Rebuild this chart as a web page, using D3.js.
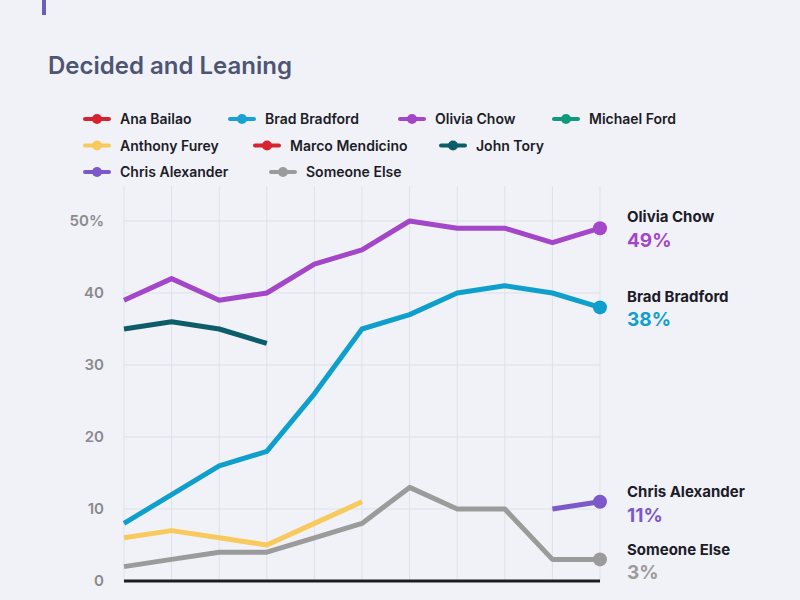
<!DOCTYPE html>
<html><head><meta charset="utf-8">
<script src="https://cdn.jsdelivr.net/npm/d3@7"></script>
<style>body{margin:0;background:#f1f2f7;font-family:Inter,"Noto Sans",sans-serif;}</style>
</head><body><div id="canvas"></div>
<script>
// poll index 0..10
var polls = d3.range(11);
var chow = [39,42,39,40,44,46,50,49,49,47,49];
var bradford = [8,12,16,18,26,35,37,40,41,40,38];
var tory = [35,36,35,33,null,null,null,null,null,null,null];
var furey = [6,7,6,5,8,11,null,null,null,null,null];
var someone = [2,3,4,4,6,8,13,10,10,3,3];
var alexander = [null,null,null,null,null,null,null,null,null,10,11];
var yTicks = [0,10,20,30,40,50];

var legendNames = ["Ana Bailao","Brad Bradford","Olivia Chow","Michael Ford","Anthony Furey","Marco Mendicino","John Tory","Chris Alexander","Someone Else"];
var legendColors = ["#d7232f","#17a2d3","#a346c9","#0f9a7c","#f8c95c","#d7232f","#0c5d69","#7d58c9","#9b9b9b"];

var series = [
  {name:"John Tory", vals:tory, color:"#0c5d69"},
  {name:"Anthony Furey", vals:furey, color:"#f8c95c"},
  {name:"Someone Else", vals:someone, color:"#9b9b9b", end:true},
  {name:"Chris Alexander", vals:alexander, color:"#7d58c9", end:true},
  {name:"Brad Bradford", vals:bradford, color:"#0f9fcc", end:true},
  {name:"Olivia Chow", vals:chow, color:"#a346c9", end:true}
];

var svg = d3.select("#canvas").append("svg").attr("width",800).attr("height",600);

svg.append("rect").attr("x",42).attr("y",0).attr("width",4).attr("height",15).attr("fill","#6a5fc1");

svg.append("text").attr("x",48).attr("y",74).attr("fill","#4d5573")
  .attr("font-size",24).attr("font-weight",600).text("Decided and Leaning");

// legend
var legendRows = [[0,1,2,3],[4,5,6],[7,8]];
var legX = [[83,228,398,552],[83,253,439],[83,269]];
legendRows.forEach(function(row, ri){
  row.forEach(function(idx, ci){
    var g = svg.append("g").attr("transform","translate("+legX[ri][ci]+","+(119+ri*26.5)+")");
    g.append("line").attr("x1",2).attr("x2",26).attr("stroke",legendColors[idx]).attr("stroke-width",4).attr("stroke-linecap","round");
    g.append("circle").attr("cx",14).attr("r",5).attr("fill",legendColors[idx]);
    g.append("text").attr("x",37).attr("y",5).attr("font-size",14).attr("font-weight",600)
      .attr("fill","#1c1c28").attr("textLength",null).text(legendNames[idx]);
  });
});

var x = d3.scaleLinear().domain([0,10]).range([124,600]);
var y = d3.scaleLinear().domain([0,50]).range([581,221]);

// grid
svg.selectAll(".vg").data(polls).enter().append("line")
  .attr("x1",d=>x(d)).attr("x2",d=>x(d)).attr("y1",186).attr("y2",581)
  .attr("stroke","#dde1ec").attr("stroke-width",1);
svg.selectAll(".hg").data(yTicks).enter().append("line")
  .attr("x1",124).attr("x2",600).attr("y1",d=>y(d)).attr("y2",d=>y(d))
  .attr("stroke","#dde1ec").attr("stroke-width",1);

var yAxis = d3.axisLeft(y).tickValues(yTicks).tickSize(0).tickPadding(14)
  .tickFormat(d=>d===50?"50%":d);
var ya = svg.append("g").attr("transform","translate(118,0)").call(yAxis);
ya.select(".domain").remove();
ya.selectAll("text").attr("font-size",15).attr("font-weight",600).attr("fill","#8a8a8f").attr("font-family","Inter,sans-serif");

svg.append("line").attr("x1",124).attr("x2",600).attr("y1",581).attr("y2",581).attr("stroke","#1c1c22").attr("stroke-width",3);

var line = d3.line().defined(d=>d!=null).x((d,i)=>x(i)).y(d=>y(d));
series.forEach(function(s){
  svg.append("path").datum(s.vals).attr("d",line).attr("fill","none")
    .attr("stroke",s.color).attr("stroke-width",5).attr("stroke-linejoin","round");
});

var labels = {"Olivia Chow":[216,240],"Brad Bradford":[296,319],"Chris Alexander":[491,515],"Someone Else":[549,572]};
series.filter(s=>s.end).forEach(function(s){
  var v = s.vals[10];
  svg.append("circle").attr("cx",x(10)).attr("cy",y(v)).attr("r",7).attr("fill",s.color);
  var p = labels[s.name];
  svg.append("text").attr("x",627).attr("y",p[0]+6).attr("font-size",15).attr("font-weight",700).attr("fill","#1c1c28").text(s.name);
  svg.append("text").attr("x",627).attr("y",p[1]+7).attr("font-size",19).attr("font-weight",700).attr("fill",s.color).text(v+"%");
});
</script></body></html>
